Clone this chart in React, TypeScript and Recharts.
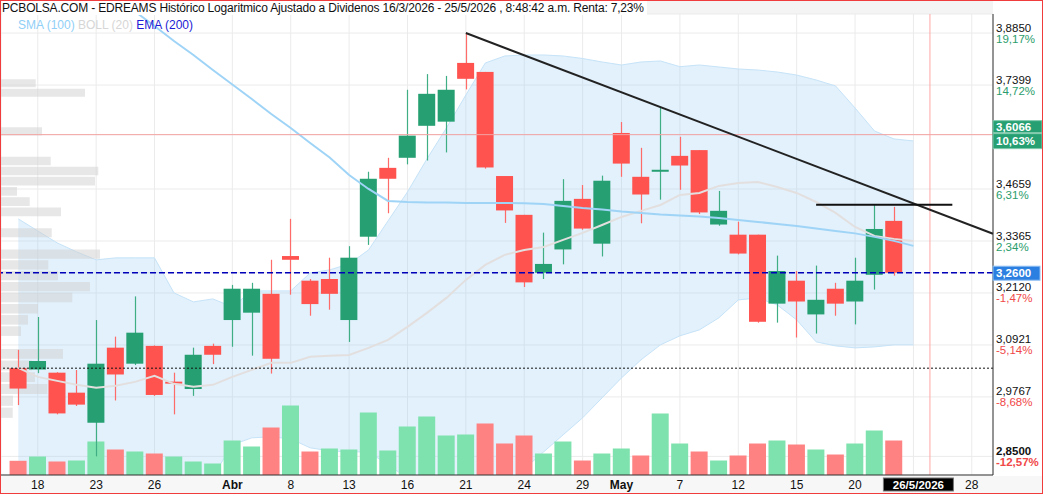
import React from 'react';
import {
  ComposedChart,
  XAxis,
  YAxis,
  CartesianGrid,
  Bar,
  Line,
  Area,
  Cell,
  ReferenceLine,
  ReferenceArea,
} from 'recharts';

// trading days, index = position on the time axis (last 5 are empty future slots)
const dates = [
  '17/3', '18/3', '19/3', '20/3', '23/3', '24/3', '25/3', '26/3', '27/3', '30/3', '31/3',
  '1/4', '2/4', '7/4', '8/4', '9/4', '10/4', '13/4', '14/4', '15/4', '16/4', '17/4', '20/4',
  '21/4', '22/4', '23/4', '24/4', '27/4', '28/4', '29/4', '30/4',
  '4/5', '5/5', '6/5', '7/5', '8/5', '11/5', '12/5', '13/5', '14/5', '15/5', '18/5', '19/5',
  '20/5', '21/5', '22/5', '25/5', '26/5', '27/5', '28/5', '29/5',
];

const opens = [
  3.040, 3.037, 3.030, 2.986, 2.921, 3.086, 3.050, 3.090, 3.010, 2.994, 3.090, 3.149, 3.166,
  3.210, 3.300, 3.241, 3.245, 3.149, 3.347, 3.520, 3.546, 3.630, 3.641, 3.801, 3.776, 3.499,
  3.401, 3.260, 3.316, 3.441, 3.330, 3.611, 3.497, 3.510, 3.551, 3.566, 3.377, 3.352, 3.352,
  3.187, 3.241, 3.162, 3.222, 3.192, 3.255, 3.386,
];
const highs = [
  3.081, 3.156, 3.031, 3.036, 3.149, 3.111, 3.204, 3.091, 3.030, 3.086, 3.095, 3.231, 3.236,
  3.291, 3.391, 3.245, 3.296, 3.324, 3.510, 3.546, 3.727, 3.770, 3.765, 3.885, 3.776, 3.499,
  3.401, 3.357, 3.491, 3.476, 3.500, 3.640, 3.572, 3.680, 3.601, 3.566, 3.461, 3.384, 3.352,
  3.301, 3.264, 3.277, 3.236, 3.296, 3.426, 3.421,
];
const lows = [
  2.959, 3.029, 2.939, 2.957, 2.850, 2.969, 3.047, 2.979, 2.939, 2.979, 3.049, 3.088, 3.068,
  3.028, 3.208, 3.159, 3.173, 3.099, 3.327, 3.405, 3.529, 3.539, 3.560, 3.728, 3.518, 3.381,
  3.226, 3.245, 3.280, 3.364, 3.299, 3.497, 3.380, 3.439, 3.464, 3.403, 3.374, 3.304, 3.143,
  3.143, 3.109, 3.118, 3.159, 3.139, 3.220, 3.253,
];
const closes = [
  2.995, 3.056, 2.941, 2.960, 3.050, 3.026, 3.120, 2.981, 3.006, 3.070, 3.070, 3.222, 3.222,
  3.061, 3.291, 3.186, 3.210, 3.296, 3.492, 3.492, 3.604, 3.716, 3.727, 3.757, 3.521, 3.412,
  3.237, 3.281, 3.436, 3.367, 3.487, 3.531, 3.452, 3.515, 3.526, 3.407, 3.411, 3.306, 3.145,
  3.264, 3.192, 3.196, 3.187, 3.241, 3.366, 3.260,
];
// volume, thousands of shares
const volumes = [
  142, 185, 135, 145, 335, 255, 235, 215, 185, 135, 115, 345, 285, 475, 695, 235, 265, 255,
  625, 245, 485, 585, 395, 405, 515, 315, 395, 215, 335, 145, 215, 265, 195, 615, 315, 235,
  145, 195, 315, 345, 305, 255, 205, 315, 445, 345,
];

// indicators, one more point than candles (25/5)
const sma100 = [
  4.2075, 4.1646, 4.1192, 4.0772, 4.0327, 3.9901, 3.9466, 3.9049, 3.8623, 3.8231, 3.7813,
  3.7415, 3.7019, 3.6616, 3.6242, 3.5847, 3.5469, 3.5017, 3.4661, 3.4357, 3.4332, 3.4320,
  3.4320, 3.4307, 3.4307, 3.4307, 3.4300, 3.4282, 3.4232, 3.4183, 3.4145, 3.4096, 3.4058,
  3.4021, 3.3996, 3.3971, 3.3934, 3.3884, 3.3834, 3.3784, 3.3735, 3.3674, 3.3613, 3.3552,
  3.3466, 3.3368, 3.3246,
];
const bollUpper = [
  3.3909, 3.3612, 3.3319, 3.3100, 3.2908, 3.2956, 3.2956, 3.2956, 3.2122, 3.1911, 3.1981,
  3.1795, 3.2169, 3.2169, 3.2169, 3.2595, 3.2667, 3.2811, 3.3148, 3.3859, 3.4585, 3.5430,
  3.6242, 3.7128, 3.8008, 3.8203, 3.8231, 3.8231, 3.8203, 3.8133, 3.8036, 3.7952, 3.8036,
  3.8064, 3.7905, 3.7952, 3.7897, 3.7841, 3.7813, 3.7758, 3.7674, 3.7538, 3.7374, 3.6777,
  3.6163, 3.5953, 3.5900,
];
const bollMid = [
  3.0407, 3.0207, 3.0119, 3.0032, 2.9966, 3.0010, 3.0097, 3.0229, 3.0054, 2.9988, 3.0032,
  3.0207, 3.0362, 3.0519, 3.0519, 3.0653, 3.0675, 3.0697, 3.0855, 3.1036, 3.1332, 3.1656,
  3.2004, 3.2429, 3.2787, 3.3028, 3.3148, 3.3221, 3.3392, 3.3563, 3.3759, 3.3958, 3.4108,
  3.4257, 3.4509, 3.4560, 3.4738, 3.4814, 3.4839, 3.4712, 3.4560, 3.4332, 3.4058, 3.3710,
  3.3490, 3.3417, 3.3368,
];
const bollLower = [
  2.6905, 2.6802, 2.6919, 2.6964, 2.7024, 2.7064, 2.7238, 2.7502, 2.7986, 2.8020, 2.8083,
  2.8742, 2.8889, 2.8910, 2.8868, 2.8678, 2.8615, 2.8594, 2.8594, 2.8324, 2.8050, 2.7900,
  2.7770, 2.7730, 2.7570, 2.7850, 2.8240, 2.8594, 2.8953, 2.9315, 2.9747, 3.0185, 3.0586,
  3.0923, 3.1128, 3.1264, 3.1540, 3.1957, 3.2004, 3.1841, 3.1494, 3.0991, 3.0900, 3.0855,
  3.0877, 3.0923, 3.0923,
];

// volume by price on the left, 40 equal price bins from 2,85 to 3,885
const profile = [
  0, 0, 0, 11.7, 12, 46.3, 34, 31, 62, 0, 20, 27, 37, 71.3, 89, 57, 47.3, 99, 0, 50.7,
  0, 60, 28.7, 16, 94, 97.3, 49.7, 0, 0, 41, 0, 0, 0, 84, 34.7, 0, 0, 0, 0, 0,
];

const xTicks = [1, 4, 7, 11, 14, 17, 20, 23, 26, 29, 31, 34, 37, 40, 43, 46, 49];
const xTickLabels = ['18', '23', '26', 'Abr', '8', '13', '16', '21', '24', '29', 'May', '7', '12', '15', '20', '26/5/2026', '28'];
const yTicks = [3.885, 3.7399, 3.6066, 3.4659, 3.3365, 3.26, 3.212, 3.0921, 2.9767, 2.85];
const yTickPct = ['19,17%', '14,72%', '10,63%', '6,31%', '2,34%', '', '-1,47%', '-5,14%', '-8,68%', '-12,57%'];

const LAST = 3.26;
const MARK = 3.6066;
const START = opens[0];
const CURSOR = 46.85;
const X_MIN = -0.889;
const X_MAX = 50.09;
const Y_MIN = 2.8114;
const Y_MAX = 3.9395;
const VOL_MAX = 4610;
const VP_MIN = 2.85;
const VP_STEP = (3.885 - 2.85) / 40;
// profile units per time-axis slot (full plot width = 992 units)
const VP_SCALE = (X_MAX - X_MIN) / 992;

const rows = sma100.map((s, i) => {
  const has = i < opens.length;
  const prev = i === 0 ? opens[0] : closes[i - 1];
  return {
    i,
    date: dates[i],
    o: has ? opens[i] : null,
    h: has ? highs[i] : null,
    l: has ? lows[i] : null,
    c: has ? closes[i] : null,
    vol: has ? volumes[i] : null,
    volUp: has ? closes[i] >= prev : false,
    sma: s,
    bu: bollUpper[i],
    bm: bollMid[i],
    bl: bollLower[i],
  };
});

// trend line through the 21/4 and 6/5 highs, carried to the right edge
const t1 = 23;
const t2 = 33;
const tSlope = (Math.log(highs[t2]) - Math.log(highs[t1])) / (t2 - t1);
const trendEnd = Math.exp(Math.log(highs[t1]) + tSlope * (X_MAX - t1));

const GREEN = '#26a073';
const RED = '#ff5350';

const Candle = (props: any) => {
  const { x, y, width, height, payload } = props;
  if (!payload || payload.o == null || !isFinite(y)) return null;
  const { o, h, l, c } = payload;
  const top = Math.min(y, y + height);
  const bot = Math.max(y, y + height);
  const lh = Math.log(h);
  const ll = Math.log(l);
  const yOf = (p: number) => (lh === ll ? top : top + ((lh - Math.log(p)) / (lh - ll)) * (bot - top));
  const up = c >= o;
  const yo = yOf(o);
  const yc = yOf(c);
  let bTop = Math.min(yo, yc);
  let bH = Math.abs(yo - yc);
  if (bH < 2) {
    bTop -= (2 - bH) / 2;
    bH = 2;
  }
  const cx = Math.round(x + width / 2) + 0.5;
  return (
    <g>
      <line x1={cx} x2={cx} y1={top} y2={bot} stroke={up ? '#3fae85' : '#ff6b68'} strokeWidth={1.2} />
      <rect x={x} y={bTop} width={width} height={bH} fill={up ? GREEN : RED} />
    </g>
  );
};

const XTick = (props: any) => {
  const { x, y, payload } = props;
  const k = xTicks.indexOf(payload.value);
  const label = xTickLabels[k] ?? '';
  const isMonth = label === 'Abr' || label === 'May';
  if (label.includes('/')) {
    return (
      <g>
        <rect x={x - 30} y={y + 3} width={70} height={13} fill="#000" stroke="#777" strokeWidth={1} />
        <text x={x + 5} y={y + 10} textAnchor="middle" dominantBaseline="central" fontSize={11.5} fontWeight="bold" fill="#fff" fontFamily='"Liberation Sans Narrow", "Liberation Sans", Arial'>
          {label}
        </text>
      </g>
    );
  }
  return (
    <text x={x} y={y + 10} textAnchor="middle" dominantBaseline="central" fontSize={12} fontWeight={isMonth ? 'bold' : 'normal'} fill="#111" fontFamily='"Liberation Sans Narrow", "Liberation Sans", Arial'>
      {label}
    </text>
  );
};

const YTick = (props: any) => {
  const { x, y, payload } = props;
  const v = payload.value as number;
  const k = yTicks.indexOf(v);
  const num = v.toFixed(4).replace('.', ',');
  const pct = yTickPct[k];
  if (v === LAST) {
    return (
      <g>
        <rect x={x - 3} y={y - 6.5} width={47} height={14} fill="#2b7fe0" stroke="#8fbff2" strokeWidth={1} />
        <text x={x} y={y + 0.5} dominantBaseline="central" fontSize={11.5} fontWeight="bold" fill="#fff">{num}</text>
      </g>
    );
  }
  if (v === MARK) {
    return (
      <g>
        <rect x={x - 3} y={y - 14} width={49} height={12} fill={GREEN} stroke="#7fc9ad" strokeWidth={1} />
        <rect x={x - 3} y={y - 1} width={49} height={15} fill={GREEN} stroke="#7fc9ad" strokeWidth={1} />
        <text x={x} y={y - 8} dominantBaseline="central" fontSize={11.5} fontWeight="bold" fill="#fff">{num}</text>
        <text x={x} y={y + 6.5} dominantBaseline="central" fontSize={11.5} fontWeight="bold" fill="#fff">{pct}</text>
      </g>
    );
  }
  const bold = v === 2.85;
  return (
    <g fontWeight={bold ? 'bold' : 'normal'}>
      <text x={x} y={y - 5.5} dominantBaseline="central" fontSize={11.5} fill="#111">{num}</text>
      <text x={x} y={y + 5.5} dominantBaseline="central" fontSize={11.5} fill={pct.startsWith('-') ? '#f04848' : '#2a9d6c'}>{pct}</text>
    </g>
  );
};

export default function App() {
  return (
    <div
      style={{
        position: 'absolute',
        left: 0,
        top: 0,
        width: 1043,
        height: 494,
        boxSizing: 'border-box',
        border: '1px solid #f03c3c',
        background: '#fff',
        overflow: 'hidden',
        fontFamily: '"Liberation Sans", Arial, sans-serif',
      }}
    >
      <div style={{ position: 'absolute', left: 0, top: 0, width: 992, height: 13, background: '#f4f4f4' }} />
      <div style={{ position: 'absolute', left: 0, top: 475, width: 1041, height: 18, background: '#f7f7f7' }} />
      <ComposedChart
        width={1041}
        height={492}
        data={rows}
        margin={{ top: 13, right: 0, bottom: 0, left: 0 }}
        style={{ position: 'absolute', left: 0, top: 0 }}
      >
        <CartesianGrid xAxisId="main" yAxisId="price" stroke="#ebebeb" strokeWidth={1} />
        <XAxis
          xAxisId="main"
          dataKey="i"
          type="number"
          domain={[X_MIN, X_MAX]}
          allowDataOverflow
          ticks={xTicks}
          interval={0}
          tick={<XTick />}
          tickLine={false}
          tickSize={0}
          tickMargin={0}
          axisLine={{ stroke: '#333' }}
          height={18}
        />
        <XAxis xAxisId="vol" dataKey="i" type="number" domain={[X_MIN, X_MAX]} allowDataOverflow hide />
        <YAxis
          yAxisId="price"
          orientation="right"
          type="number"
          scale="log"
          domain={[Y_MIN, Y_MAX]}
          allowDataOverflow
          ticks={yTicks}
          interval={0}
          tick={<YTick />}
          tickLine={false}
          tickSize={0}
          tickMargin={3}
          axisLine={{ stroke: '#333' }}
          width={49}
        />
        <YAxis yAxisId="vol" hide domain={[0, VOL_MAX]} allowDataOverflow />

        <Bar xAxisId="vol" yAxisId="vol" dataKey="vol" barSize={17} isAnimationActive={false}>
          {rows.map((r, k) => (
            <Cell key={k} fill={r.volUp ? '#7ee2ae' : '#ff8282'} />
          ))}
        </Bar>

        <Area
          xAxisId="main"
          yAxisId="price"
          dataKey={(d: any) => [d.bl, d.bu]}
          type="linear"
          fill="#96cdf5"
          fillOpacity={0.28}
          stroke="#c6e3f8"
          strokeWidth={1}
          isAnimationActive={false}
        />

        {profile.map((v, k) =>
          v > 0 ? (
            <ReferenceArea
              key={'vp' + k}
              xAxisId="main"
              yAxisId="price"
              x1={X_MIN}
              x2={X_MIN + v * VP_SCALE}
              y1={VP_MIN + (k + 0.15) * VP_STEP}
              y2={VP_MIN + (k + 1.0) * VP_STEP}
              fill="#cfcfcf"
              fillOpacity={0.5}
              stroke="none"
              ifOverflow="hidden"
            />
          ) : null
        )}

        <Line xAxisId="main" yAxisId="price" dataKey="bm" stroke="#e3dfdf" strokeWidth={2} dot={false} type="linear" isAnimationActive={false} />
        <Line xAxisId="main" yAxisId="price" dataKey="sma" stroke="#9fd4f7" strokeWidth={2} dot={false} type="linear" isAnimationActive={false} />

        <ReferenceLine xAxisId="main" yAxisId="price" y={MARK} stroke="#f4a4a4" strokeWidth={1} />
        <ReferenceLine xAxisId="main" yAxisId="price" x={CURSOR} stroke="#ffa6a6" strokeWidth={1} />
        <ReferenceLine xAxisId="main" yAxisId="price" y={START} stroke="#111" strokeDasharray="2 2" strokeWidth={1} />
        <ReferenceLine xAxisId="main" yAxisId="price" y={LAST} stroke="#0000b8" strokeDasharray="6 3" strokeWidth={1.5} />

        <Bar
          xAxisId="main"
          yAxisId="price"
          dataKey={(d: any) => (d.h != null ? [d.l, d.h] : null)}
          barSize={17}
          shape={<Candle />}
          isAnimationActive={false}
        />

        <ReferenceLine
          xAxisId="main"
          yAxisId="price"
          segment={[{ x: t1, y: highs[t1] }, { x: X_MAX, y: trendEnd }]}
          stroke="#222"
          strokeWidth={2}
        />
        <ReferenceLine
          xAxisId="main"
          yAxisId="price"
          segment={[{ x: 41, y: highs[44] }, { x: 48, y: highs[44] }]}
          stroke="#111"
          strokeWidth={2}
        />
      </ComposedChart>

      <div style={{ position: 'absolute', left: 1, top: 0, height: 14, lineHeight: '14px', fontSize: 12, letterSpacing: -0.18, color: '#111', background: '#fff', paddingRight: 3, whiteSpace: 'nowrap' }}>
        PCBOLSA.COM - EDREAMS Histórico Logaritmico Ajustado a Dividenos 16/3/2026 - 25/5/2026 , 8:48:42 a.m. Renta: 7,23%
      </div>
      <div style={{ position: 'absolute', left: 17, top: 17, fontSize: 12, whiteSpace: 'nowrap' }}>
        <span style={{ color: '#90cff7' }}>SMA (100) </span>
        <span style={{ color: '#d6d6d6' }}>BOLL (20) </span>
        <span style={{ color: '#1c1cd4' }}>EMA (200)</span>
      </div>
    </div>
  );
}
